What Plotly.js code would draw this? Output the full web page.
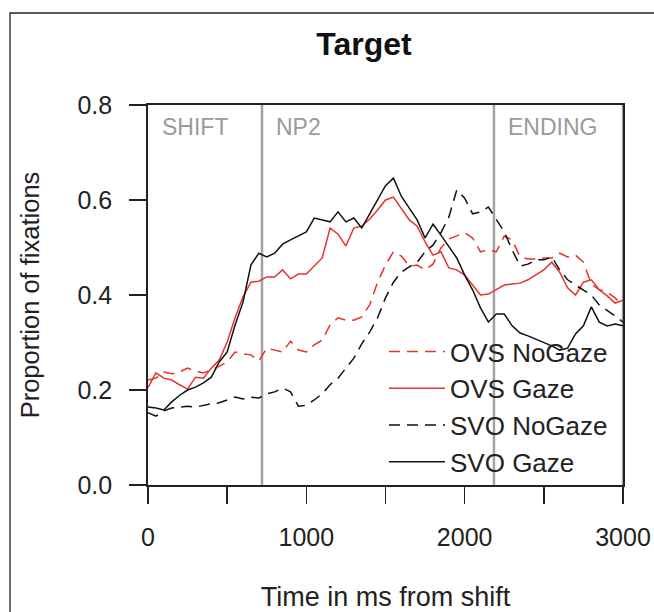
<!DOCTYPE html>
<html>
<head>
<meta charset="utf-8">
<script src="https://cdn.plot.ly/plotly-3.0.1.min.js"></script>
<style>html,body{margin:0;padding:0;background:#fff;}#chart{width:654px;height:612px;}</style>
</head>
<body>
<div id="chart"></div>
<script>
// Time axis (ms from shift)
var timeMs = [0,50,100,150,200,250,300,350,400,450,500,550,600,650,700,750,800,850,900,950,
  1000,1050,1100,1150,1200,1250,1300,1350,1400,1450,1500,1550,1600,1650,1700,1750,1800,1850,1900,1950,
  2000,2050,2100,2150,2200,2250,2300,2350,2400,2450,2500,2550,2600,2650,2700,2750,2800,2850,2900,2950,3000];

var ovsNoGaze = [0.221,0.225,0.238,0.234,0.238,0.246,0.240,0.236,0.242,0.251,
  0.259,0.280,0.276,0.274,0.261,0.288,0.284,0.280,0.303,0.284,
  0.280,0.295,0.305,0.337,0.352,0.347,0.347,0.354,0.379,0.427,
  0.463,0.491,0.482,0.461,0.463,0.453,0.465,0.499,0.518,0.524,
  0.531,0.520,0.491,0.495,0.491,0.524,0.516,0.480,0.476,0.476,
  0.478,0.478,0.488,0.480,0.484,0.469,0.423,0.411,0.406,0.394,0.377];

var ovsGaze = [0.205,0.236,0.225,0.221,0.211,0.202,0.227,0.225,0.246,0.263,
  0.301,0.352,0.396,0.427,0.429,0.438,0.438,0.453,0.434,0.444,
  0.444,0.461,0.478,0.541,0.528,0.503,0.541,0.545,0.560,0.579,
  0.600,0.606,0.583,0.558,0.545,0.512,0.484,0.491,0.457,0.453,
  0.442,0.421,0.400,0.402,0.411,0.421,0.423,0.425,0.432,0.442,
  0.453,0.469,0.448,0.415,0.400,0.427,0.432,0.411,0.398,0.383,0.389];

var svoNoGaze = [0.152,0.145,0.156,0.162,0.164,0.166,0.164,0.168,0.171,0.173,
  0.179,0.185,0.181,0.185,0.183,0.192,0.196,0.204,0.196,0.166,
  0.168,0.179,0.192,0.211,0.225,0.246,0.267,0.297,0.322,0.352,
  0.394,0.427,0.448,0.459,0.469,0.491,0.505,0.531,0.564,0.621,
  0.604,0.571,0.575,0.585,0.558,0.533,0.495,0.461,0.465,0.474,
  0.474,0.480,0.453,0.432,0.421,0.411,0.400,0.379,0.368,0.356,0.343];

var svoGaze = [0.164,0.162,0.158,0.175,0.189,0.200,0.206,0.215,0.227,0.259,
  0.280,0.337,0.385,0.463,0.488,0.480,0.488,0.507,0.516,0.524,
  0.533,0.562,0.558,0.554,0.575,0.554,0.562,0.541,0.571,0.600,
  0.630,0.646,0.608,0.583,0.558,0.520,0.549,0.526,0.503,0.478,
  0.442,0.411,0.373,0.343,0.360,0.360,0.335,0.320,0.314,0.307,
  0.301,0.293,0.284,0.288,0.318,0.335,0.375,0.343,0.335,0.339,0.335];

var seriesNames = ["OVS NoGaze","OVS Gaze","SVO NoGaze","SVO Gaze"];

// Region boundaries (ms) and labels
var regionBounds = [720, 2185, 3000];
var regionLabels = ["SHIFT","NP2","ENDING"];
var regionLabelStarts = [0, 720, 2185];

var xTickVals = [0,500,1000,1500,2000,2500,3000];
var xTickText = ["0","","1000","","2000","","3000"];
var yTickVals = [0,0.2,0.4,0.6,0.8];

var RED = "#e8322c", BLACK = "#111111";
var FONT = "Liberation Sans, Arial, Helvetica, sans-serif";

var traces = [
  {x: timeMs, y: ovsNoGaze, name: seriesNames[0], mode: "lines", line: {color: RED, width: 1.5, dash: "11px,7px"}},
  {x: timeMs, y: ovsGaze, name: seriesNames[1], mode: "lines", line: {color: RED, width: 1.5}},
  {x: timeMs, y: svoNoGaze, name: seriesNames[2], mode: "lines", line: {color: BLACK, width: 1.5, dash: "11px,7px"}},
  {x: timeMs, y: svoGaze, name: seriesNames[3], mode: "lines", line: {color: BLACK, width: 1.5}}
];

var shapes = regionBounds.map(function (b) {
  return {type: "line", xref: "x", yref: "paper", x0: b, x1: b, y0: 0, y1: 1,
          line: {color: "#a3a3a3", width: 2.5}, layer: "below"};
});
// outer figure frame
shapes.push({type: "rect", xref: "paper", yref: "paper",
  x0: (10 - 148) / 475, x1: 1.2, y0: -0.5, y1: (485 - 13) / 380,
  line: {color: "#222", width: 1.3}, fillcolor: "rgba(0,0,0,0)", layer: "below"});

var annotations = regionLabels.map(function (lab, i) {
  return {text: lab, x: regionLabelStarts[i], xref: "x", y: 0.754, yref: "y",
          xanchor: "left", yanchor: "middle", xshift: 12, showarrow: false,
          font: {family: FONT, size: 23, color: "#9a9a9a"}};
});

var layout = {
  width: 654, height: 612,
  margin: {l: 148, r: 31, t: 105, b: 127},
  paper_bgcolor: "#fff", plot_bgcolor: "#fff",
  font: {family: FONT, size: 25, color: "#222"},
  title: {text: "<b>Target</b>", font: {family: FONT, size: 32, color: "#111"},
          x: 364 / 654, xref: "container", xanchor: "center", y: 1 - 44 / 612, yref: "container", yanchor: "middle"},
  xaxis: {range: [0, 3000], tickvals: xTickVals, ticktext: xTickText,
          ticks: "outside", ticklen: 17, tickwidth: 1.5, tickcolor: "#222",
          showline: true, linecolor: "#222", linewidth: 1.8, mirror: true,
          showgrid: false, zeroline: false, ticklabelstandoff: 12,
          tickfont: {family: FONT, size: 25, color: "#222"},
          title: {text: "Time in ms from shift", font: {family: FONT, size: 27, color: "#222"}, standoff: 38}},
  yaxis: {range: [0, 0.8], tickvals: yTickVals, tickformat: ".1f",
          ticks: "outside", ticklen: 17, tickwidth: 1.5, tickcolor: "#222",
          showline: true, linecolor: "#222", linewidth: 1.8, mirror: true,
          showgrid: false, zeroline: false, ticklabelstandoff: 12,
          tickfont: {family: FONT, size: 25, color: "#222"},
          title: {text: "Proportion of fixations", font: {family: FONT, size: 25.5, color: "#222"}, standoff: 30}},
  showlegend: true,
  legend: {x: (384 - 148) / 475, xanchor: "left", y: (485 - 328) / 380, yanchor: "top",
           bgcolor: "rgba(0,0,0,0)", borderwidth: 0, traceorder: "normal", itemwidth: 56,
           font: {family: FONT, size: 26, color: "#222"}, tracegroupgap: 0},
  shapes: shapes,
  annotations: annotations
};

Plotly.newPlot("chart", traces, layout, {staticPlot: true, displayModeBar: false});
</script>
</body>
</html>
